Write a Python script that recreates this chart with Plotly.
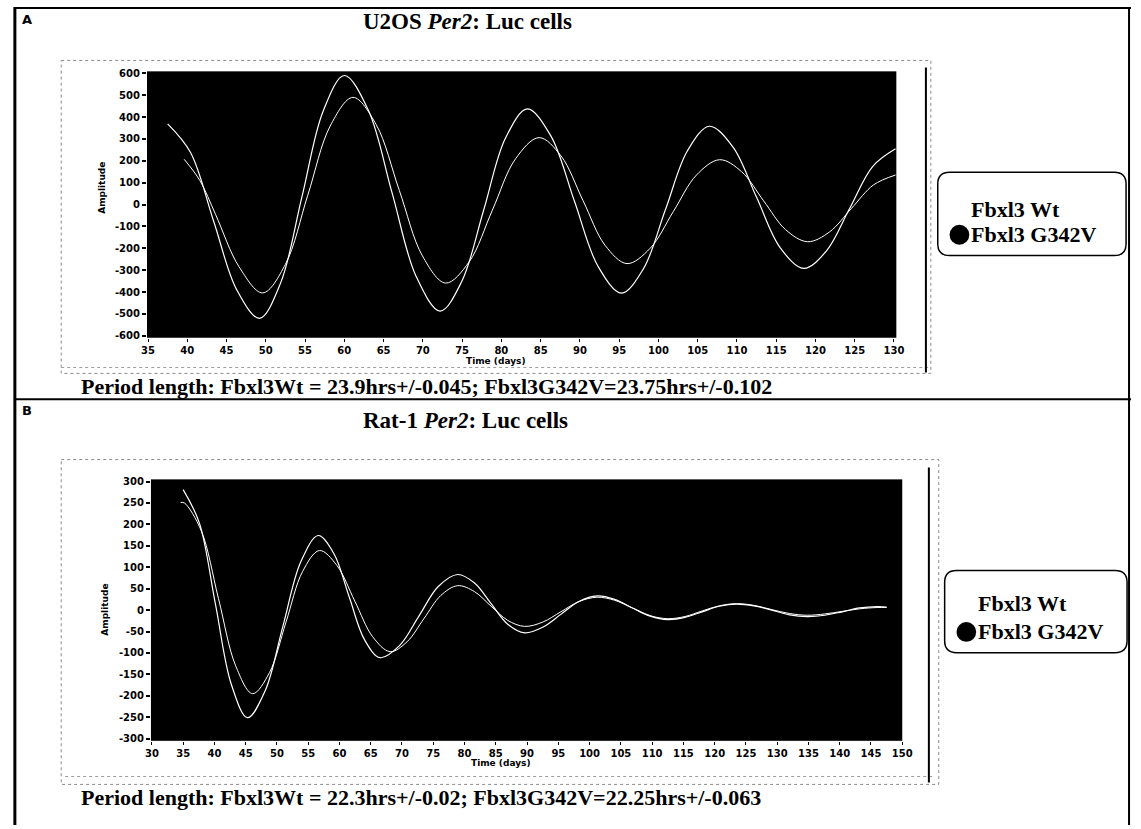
import plotly.graph_objects as go

# ---------------- data ----------------
# Panel A : U2OS Per2:Luc
a_wt_days = [37.5, 40.4, 43.35, 46.3, 49.2, 51.9, 54.6, 57.3, 60.0, 63.05, 66.1, 69.15, 72.2,
             74.95, 77.75, 80.5, 83.3, 86.3, 89.3, 92.3, 95.3, 98.1, 100.9, 103.7, 106.5,
             109.5, 112.5, 115.5, 118.5, 121.4, 124.35, 127.3, 130.2]
a_wt_amp = [369, 239, -75, -390, -520, -357, 35, 427, 590, 432, 51, -329, -487,
            -352, -25, 302, 437, 314, 16, -282, -405, -293, -23, 246, 358,
            263, 33, -197, -292, -212, -18, 175, 255]

a_mut_days = [39.6, 41.6, 43.6, 46.6, 49.6, 52.5, 55.35, 58.2, 61.1, 64.05, 67.0, 69.95, 72.9,
              75.9, 78.85, 81.8, 84.8, 87.6, 90.4, 93.2, 96.0, 98.95, 101.9, 104.85, 107.8,
              110.6, 113.4, 116.2, 119.0, 121.8, 124.6, 127.4, 130.2]
a_mut_amp = [207, 110, -45, -285, -404, -273, 43, 359, 490, 366, 65, -235, -359,
             -262, -26, 209, 306, 222, 18, -186, -270, -200, -32, 135, 205,
             150, 17, -115, -170, -125, -17, 90, 135]

# Panel B : Rat-1 Per2:Luc
b_wt_days = [35.0, 37.6, 40.15, 42.7, 45.3, 48.1, 50.95, 53.8, 56.6, 59.1, 61.55, 64.0, 66.5,
             69.6, 72.7, 75.8, 78.9, 81.6, 84.25, 86.9, 89.6, 92.5, 95.4, 98.3, 101.2,
             104.0, 106.85, 109.7, 112.5, 115.25, 118.0, 120.75, 123.5, 126.3, 129.15, 132.0,
             134.8, 137.6, 140.4, 143.2, 146.0, 147.5]
b_wt_amp = [281, 203, 15, -173, -251, -189, -38, 112, 174, 132, 31, -69, -111,
            -83, -14, 55, 83, 63, 15, -33, -53, -40, -10, 20, 33,
            25, 5, -14, -22, -17, -4, 9, 14, 10, 0, -11,
            -15, -12, -4, 5, 8, 7]

b_mut_days = [34.6, 35.2, 37.9, 40.65, 43.4, 46.1, 48.8, 51.45, 54.1, 56.8, 59.6, 62.45, 65.3, 68.1,
              70.8, 73.5, 76.2, 78.9, 81.6, 84.25, 86.9, 89.6, 92.5, 95.4, 98.3, 101.2,
              104.0, 106.85, 109.7, 112.5, 115.25, 118.0, 120.75, 123.5, 126.3, 129.15, 132.0,
              134.8, 137.6, 140.4, 143.2, 146.0, 147.5]
b_mut_amp = [251, 250, 185, 27, -130, -195, -146, -28, 90, 139, 104, 21, -62, -97,
             -74, -20, 34, 57, 43, 9, -24, -38, -28, -4, 20, 30,
             23, 5, -13, -20, -15, -2, 10, 15, 11, 1, -8,
             -12, -9, -3, 3, 6, 6]

a_xticks = list(range(35, 131, 5))
a_yticks = list(range(-600, 601, 100))
b_xticks = list(range(30, 151, 5))
b_yticks = list(range(-300, 301, 50))

title_a = "<b>U2OS <i>Per2</i>: Luc cells</b>"
title_b = "<b>Rat-1 <i>Per2</i>: Luc cells</b>"
caption_a = "<b>Period length: Fbxl3Wt = 23.9hrs+/-0.045; Fbxl3G342V=23.75hrs+/-0.102</b>"
caption_b = "<b>Period length: Fbxl3Wt = 22.3hrs+/-0.02; Fbxl3G342V=22.25hrs+/-0.063</b>"
legend_names = ["Fbxl3 Wt", "Fbxl3 G342V"]

# ---------------- layout helpers ----------------
W, H = 1141, 829
def px(x):
    return x / W
def py(y):
    return 1 - y / H

fig = go.Figure()
line_main = dict(color="white", width=1.2, shape="spline", smoothing=1.0)
line_sec = dict(color="white", width=1.0, shape="spline", smoothing=1.0)

fig.add_trace(go.Scatter(x=a_wt_days, y=a_wt_amp, mode="lines", line=line_main,
                         name=legend_names[0], xaxis="x", yaxis="y"))
fig.add_trace(go.Scatter(x=a_mut_days, y=a_mut_amp, mode="lines", line=line_sec,
                         name=legend_names[1], xaxis="x", yaxis="y"))
fig.add_trace(go.Scatter(x=b_wt_days, y=b_wt_amp, mode="lines", line=line_main,
                         name=legend_names[0], xaxis="x2", yaxis="y2"))
fig.add_trace(go.Scatter(x=b_mut_days, y=b_mut_amp, mode="lines", line=line_sec,
                         name=legend_names[1], xaxis="x2", yaxis="y2"))

tickfont = dict(family="DejaVu Sans", size=10, color="black", weight="bold")
common_x = dict(showgrid=False, zeroline=False, ticks="outside", ticklen=3, tickwidth=1,
                tickcolor="black", tickfont=tickfont, showline=False, fixedrange=True)
common_y = dict(showgrid=False, zeroline=False, ticks="outside", ticklen=4, tickwidth=2,
                tickcolor="black", tickfont=tickfont, showline=False, fixedrange=True)

def labels(vals):
    return [str(v) for v in vals]

fig.update_layout(
    width=W, height=H,
    margin=dict(l=0, r=0, t=0, b=0),
    paper_bgcolor="white",
    plot_bgcolor="black",
    showlegend=False,
    xaxis=dict(domain=[px(143), px(903)], range=[34.87, 130.3], tickvals=a_xticks,
               ticktext=labels(a_xticks), anchor="y", **common_x),
    yaxis=dict(domain=[py(337), py(68)], range=[-609, 609], tickvals=a_yticks,
               ticktext=labels(a_yticks), anchor="x", **common_y),
    xaxis2=dict(domain=[px(147), px(909)], range=[29.85, 150.0], tickvals=b_xticks,
                ticktext=labels(b_xticks), anchor="y2", **common_x),
    yaxis2=dict(domain=[py(744), py(480)], range=[-305, 305], tickvals=b_yticks,
                ticktext=labels(b_yticks), anchor="x2", **common_y),
)

shapes = []
# outer frame lines
shapes.append(dict(type="line", xref="paper", yref="paper", x0=px(9), x1=px(9), y0=py(3), y1=py(829),
                   line=dict(color="black", width=3)))
shapes.append(dict(type="line", xref="paper", yref="paper", x0=px(8), x1=px(1141), y0=py(4), y1=py(4),
                   line=dict(color="black", width=2)))
shapes.append(dict(type="line", xref="paper", yref="paper", x0=px(1139), x1=px(1139), y0=py(3), y1=py(829),
                   line=dict(color="black", width=2)))
shapes.append(dict(type="line", xref="paper", yref="paper", x0=px(8), x1=px(1141), y0=py(399), y1=py(399),
                   line=dict(color="black", width=2)))

# dotted frames of the chart images
for (x0, y0, x1, y1) in [(56, 57, 938, 373), (56, 460, 946, 788)]:
    shapes.append(dict(type="rect", xref="paper", yref="paper", x0=px(x0), x1=px(x1), y0=py(y0), y1=py(y1),
                       line=dict(color="#8a8a8a", width=1, dash="dot")))
# inner dotted line under x axis
for (x0, x1, y) in [(56, 938, 367), (60, 942, 780)]:
    shapes.append(dict(type="line", xref="paper", yref="paper", x0=px(x0), x1=px(x1), y0=py(y), y1=py(y),
                       line=dict(color="#9a9a9a", width=1, dash="dot")))
# vertical black bars at right of chart images
for (x, y0, y1) in [(933, 64, 372), (936, 468, 786)]:
    shapes.append(dict(type="line", xref="paper", yref="paper", x0=px(x), x1=px(x), y0=py(y0), y1=py(y1),
                       line=dict(color="black", width=2)))

def rounded_box(x0, y0, x1, y1, r):
    X0, X1 = px(x0), px(x1)
    Y0, Y1 = py(y0), py(y1)
    rx, ry = r / W, r / H
    return (f"M {X0+rx},{Y0} L {X1-rx},{Y0} Q {X1},{Y0} {X1},{Y0-ry} "
            f"L {X1},{Y1+ry} Q {X1},{Y1} {X1-rx},{Y1} L {X0+rx},{Y1} "
            f"Q {X0},{Y1} {X0},{Y1+ry} L {X0},{Y0-ry} Q {X0},{Y0} {X0+rx},{Y0} Z")

legend_boxes = [(945, 170, 1136, 254), (952, 572, 1137, 655)]
for (x0, y0, x1, y1) in legend_boxes:
    shapes.append(dict(type="path", xref="paper", yref="paper", path=rounded_box(x0, y0, x1, y1, 12),
                       line=dict(color="black", width=1.5)))
# black dots in the legends
for (cx, cy) in [(967, 233), (974, 634)]:
    shapes.append(dict(type="circle", xref="paper", yref="paper", x0=px(cx - 10), x1=px(cx + 10),
                       y0=py(cy + 10), y1=py(cy - 10), fillcolor="black", line=dict(color="black", width=0)))

fig.update_layout(shapes=shapes)

serif = "Liberation Serif"
ann = []
def text(x, y, s, size, family=serif, xanchor="left", yanchor="middle", angle=0):
    ann.append(dict(xref="paper", yref="paper", x=px(x), y=py(y), text=s, showarrow=False,
                    xanchor=xanchor, yanchor=yanchor, textangle=angle,
                    font=dict(family=family, size=size, color="black")))

text(14, 16, "<b>A</b>", 13, family="DejaVu Sans")
text(14, 410, "<b>B</b>", 13, family="DejaVu Sans")
text(468, 18, title_a, 23, xanchor="center")
text(466, 421, title_b, 23, xanchor="center")
text(74, 386, caption_a, 22)
text(74, 801, caption_b, 22)
text(98, 186, "<b>Amplitude</b>", 9, family="DejaVu Sans", xanchor="center", angle=-90)
text(100, 612, "<b>Amplitude</b>", 9, family="DejaVu Sans", xanchor="center", angle=-90)
text(497, 360, "<b>Time (days)</b>", 9, family="DejaVu Sans", xanchor="center")
text(502, 766, "<b>Time (days)</b>", 9, family="DejaVu Sans", xanchor="center")
text(977, 207, "<b>" + legend_names[0] + "</b>", 22)
text(977, 233, "<b>" + legend_names[1] + "</b>", 22)
text(984, 605, "<b>" + legend_names[0] + "</b>", 22)
text(984, 634, "<b>" + legend_names[1] + "</b>", 22)
fig.update_layout(annotations=ann)

fig.write_html("out.html")
